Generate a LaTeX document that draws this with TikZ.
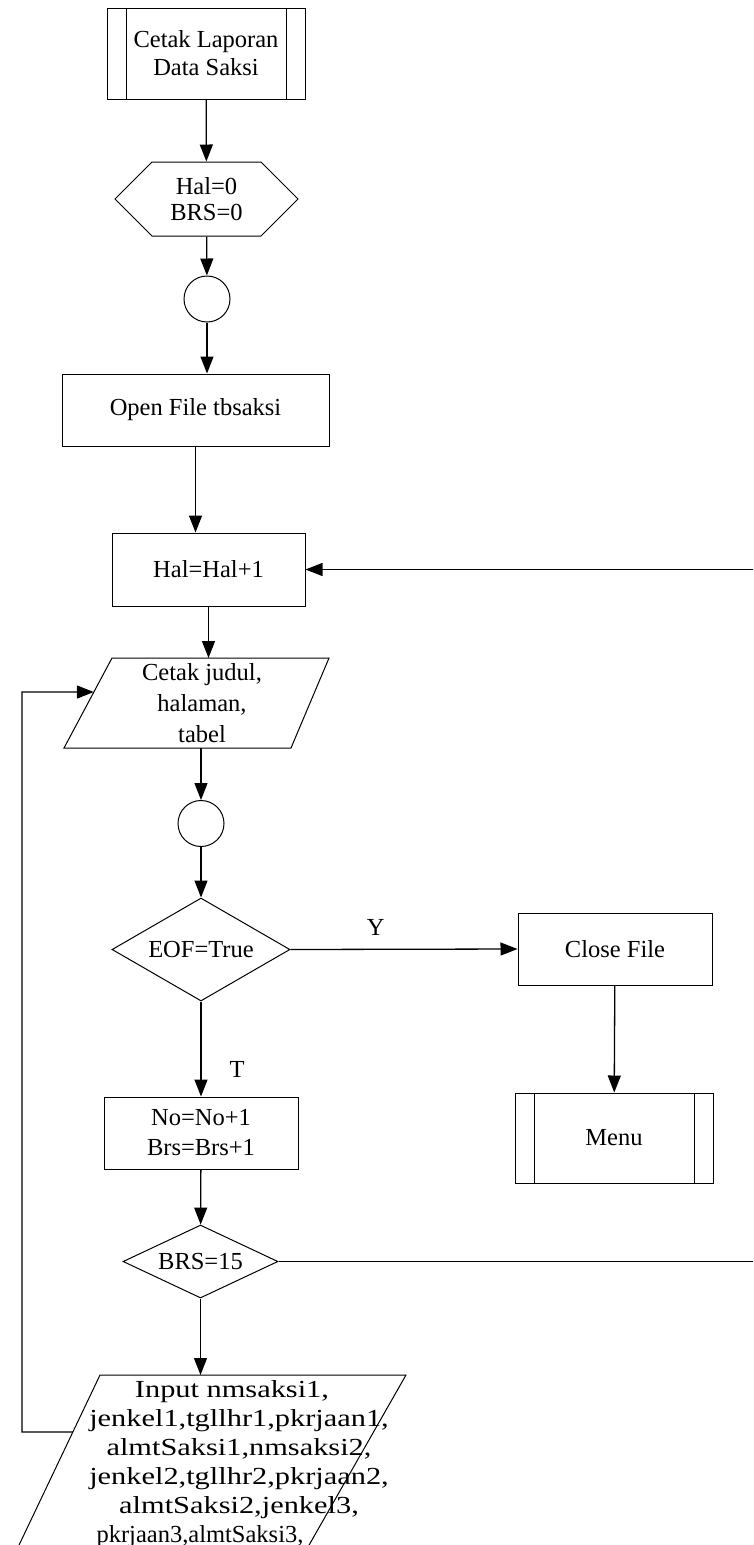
\documentclass[tikz,border=0pt]{standalone}
\usepackage{fontspec}
\setmainfont{Liberation Serif}
\newfontfamily\widefont[FakeStretch=1.24]{Liberation Serif}
\usetikzlibrary{arrows.meta, positioning, shapes.geometric, shapes.symbols, calc}

\tikzset{
  base/.style={draw, line width=1pt, font=\fontsize{24.5}{28}\selectfont,
               align=center, inner sep=0pt},
  procbox/.style={base, rectangle},
  subbox/.style={base, rectangle, path picture={
      \draw[line width=1pt] ([xshift=19pt]path picture bounding box.north west)
        -- ([xshift=19pt]path picture bounding box.south west);
      \draw[line width=1pt] ([xshift=-19pt]path picture bounding box.north east)
        -- ([xshift=-19pt]path picture bounding box.south east);}},
  prepbox/.style={base, signal, signal to=west and east, signal pointer angle=90},
  iotext/.style={font=\fontsize{24.5}{28}\selectfont, align=center, inner sep=0pt},
  ioline/.style={line width=1pt, line join=miter},
  decbox/.style={base, diamond},
  conn/.style={base, circle, minimum size=46pt},
  arr/.style={-{Triangle[length=17pt,width=13pt]}, line width=1.3pt},
}

\begin{document}
\begin{tikzpicture}[x=1pt, y=-1pt]
  \clip (0,0) rectangle (753,1545);

  % Main column
  \node[subbox, minimum width=198pt, minimum height=91pt] (start) at (206,53.5)
    {Cetak Laporan\\Data Saksi};
  \node[prepbox, minimum width=183pt, minimum height=74pt] (init) at (206.5,199)
    {Hal=0\\[-2pt]BRS=0};
  \node[conn] (c1) at (207,299) {};
  \node[procbox, minimum width=267pt, minimum height=72pt] (open) at (195.5,410)
    {Open File tbsaksi};
  \node[procbox, minimum width=193pt, minimum height=73pt] (hal) at (208.5,569.5)
    {Hal=Hal+1};

  % Output: judul halaman tabel
  \coordinate (judTL) at (112,658);
  \coordinate (judTR) at (329,658);
  \coordinate (judBR) at (291,748);
  \coordinate (judBL) at (64,748);
  \draw[ioline] (judTL) -- (judTR) -- (judBR) -- (judBL) -- cycle;
  \node[iotext] (judul) at (202,703) {Cetak judul,\\[3pt]halaman,\\[3pt]tabel};

  \node[conn] (c2) at (201,823.5) {};
  \node[decbox, aspect=1.73, minimum width=178pt, minimum height=103pt] (eof) at (201,949.5)
    {EOF=True};
  \node[procbox, minimum width=194pt, minimum height=72pt] (no) at (201,1133)
    {No=No+1\\[2pt]Brs=Brs+1};
  \node[decbox, aspect=2.12, minimum width=155pt, minimum height=73pt] (brs) at (200.5,1261.5)
    {BRS=15};

  % Input data saksi
  \coordinate (inpTL) at (100,1375);
  \coordinate (inpTR) at (406,1375);
  \coordinate (inpBR) at (303.4,1555);
  \coordinate (inpBL) at (14.3,1555);
  \draw[ioline] (inpTL) -- (inpTR) -- (inpBR) -- (inpBL) -- cycle;
  \node[iotext] (inp) at (239,1464.5)
    {\hspace*{-14pt}\widefont Input nmsaksi1,\\[1pt]
     \widefont jenkel1,tgllhr1,pkrjaan1,\\[1pt]
     \widefont almtSaksi1,nmsaksi2,\\[1pt]
     \widefont jenkel2,tgllhr2,pkrjaan2,\\[1pt]
     \widefont almtSaksi2,jenkel3,\\[1pt]
     \hspace*{-78pt}pkrjaan3,almtSaksi3,};

  % Right column
  \node[procbox, minimum width=194pt, minimum height=72pt] (close) at (615,949)
    {Close File};
  \node[subbox, minimum width=198pt, minimum height=90pt] (menu) at (614,1138)
    {Menu};

  % Connectors
  \draw[arr] (start) -- (init);
  \draw[arr] (init) -- (c1);
  \draw[arr] (c1.south) -- (c1.south |- open.north);
  \draw[arr] (open.south) -- (open.south |- hal.north);
  \draw[arr] (hal.south) -- (hal.south |- judTL);
  \draw[arr] (c2.north |- judBL) -- (c2.north);
  \draw[arr] (c2) -- (eof);
  \draw[arr] (eof.east) -- node[pos=0.375, yshift=22pt, iotext] {Y} (close.west);
  \draw[arr] (close) -- (menu);
  \draw[arr] (eof.south) -- node[pos=0.72, xshift=36pt, iotext] {T} (no.north);
  \draw[arr] (no) -- (brs);
  \draw[arr] (brs.south) -- (brs.south |- inpTL);

  % Loops back
  \draw[arr] (brs.east) -- (760,1261.5) |- (hal.east);
  \coordinate (inpL) at ($(inpTL)!0.317!(inpBL)$);
  \coordinate (judL) at ($(judTL)!0.378!(judBL)$);
  \draw[arr] (inpL) -- (22,1432) |- (judL);

\end{tikzpicture}
\end{document}
